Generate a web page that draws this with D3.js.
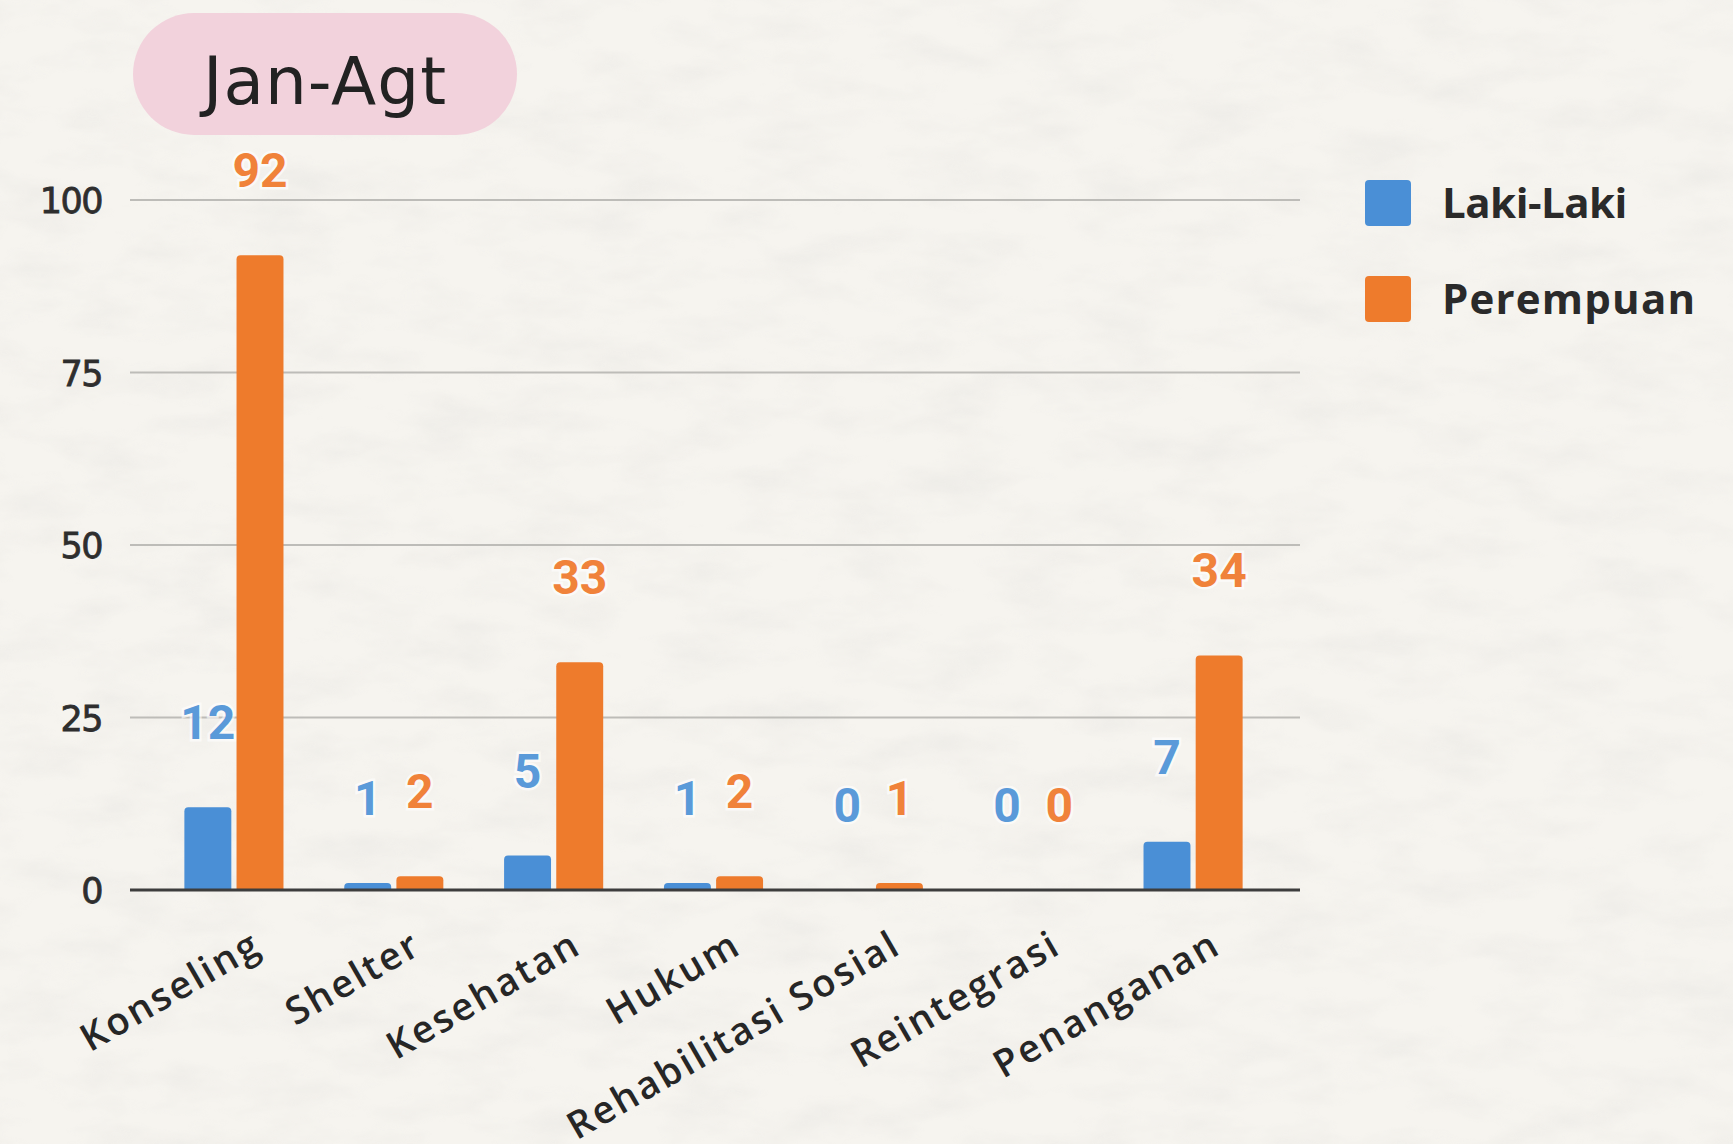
<!DOCTYPE html>
<html><head><meta charset="utf-8">
<script src="https://cdn.jsdelivr.net/npm/d3@7"></script>
<style>
html,body{margin:0;padding:0;background:#f3f1ec;}
svg{display:block;}
</style></head>
<body>
<svg id="chart" width="1733" height="1144"></svg>
<script>
const categories = ["Konseling","Shelter","Kesehatan","Hukum","Rehabilitasi Sosial","Reintegrasi","Penanganan"];
const seriesNames = ["Laki-Laki","Perempuan"];
const lakiLaki = [12,1,5,1,0,0,7];
const perempuan = [92,2,33,2,1,0,34];
const yTicks = [0,25,50,75,100];
const title = "Jan-Agt";

const colors = {"Laki-Laki":"#4a8fd6","Perempuan":"#ee7b2c"};
const labelColors = {"Laki-Laki":"#5a9ad9","Perempuan":"#f0823a"};

const svg = d3.select("#chart");
const W = 1733, H = 1144;

// paper texture background
const defs = svg.append("defs");
const f = defs.append("filter").attr("id","paper").attr("x",0).attr("y",0).attr("width","100%").attr("height","100%");
f.append("feTurbulence").attr("type","fractalNoise").attr("baseFrequency","0.012 0.03").attr("numOctaves",4).attr("seed",3).attr("result","n");
f.append("feColorMatrix").attr("in","n").attr("type","matrix")
 .attr("values","0 0 0 0 0.80  0 0 0 0 0.79  0 0 0 0 0.76  0 0 0 -1.6 0.95");
svg.append("rect").attr("width",W).attr("height",H).attr("fill","#f6f4ef");
svg.append("rect").attr("width",W).attr("height",H).attr("filter","url(#paper)").attr("opacity",0.6);

const baseY = 890, topY = 200;
const y = d3.scaleLinear().domain([0,100]).range([baseY, topY]);
const x0 = d3.scaleBand().domain(categories).range([154,1273]).paddingInner(0.38).paddingOuter(0.19);
const x1 = d3.scaleBand().domain(seriesNames).range([0, x0.bandwidth()]).paddingInner(0.1);

// gridlines
const grid = svg.append("g");
grid.selectAll("line").data(yTicks.filter(d=>d>0)).join("line")
  .attr("x1",130).attr("x2",1300)
  .attr("y1",d=>y(d)).attr("y2",d=>y(d))
  .attr("stroke","#bdbcb8").attr("stroke-width",2);

// y axis labels
const yAxis = d3.axisLeft(y).tickValues(yTicks).tickSize(0).tickPadding(0);
const yg = svg.append("g").attr("transform","translate(102,0)").call(yAxis);
yg.select(".domain").remove();
yg.selectAll("text").attr("font-family","'DejaVu Sans', sans-serif").attr("font-size",35)
  .attr("fill","#2e2e2e").attr("letter-spacing","-1.5px").attr("dy","0.36em")
  .attr("stroke","#2e2e2e").attr("stroke-width",0.8);

const data = categories.map((c,i)=>({cat:c, vals:[{s:"Laki-Laki",v:lakiLaki[i]},{s:"Perempuan",v:perempuan[i]}]}));

function topRounded(xp,yp,w,h,r){
  r = Math.min(r,h,w/2);
  if(h<=0) return "";
  return `M${xp},${yp+h}V${yp+r}Q${xp},${yp} ${xp+r},${yp}H${xp+w-r}Q${xp+w},${yp} ${xp+w},${yp+r}V${yp+h}Z`;
}

const groups = svg.append("g").selectAll("g").data(data).join("g")
  .attr("transform",d=>`translate(${x0(d.cat)},0)`);
groups.selectAll("path").data(d=>d.vals).join("path")
  .attr("d",d=>topRounded(x1(d.s), y(d.v), x1.bandwidth(), baseY - y(d.v), 4))
  .attr("fill",d=>colors[d.s]);

// baseline
svg.append("line").attr("x1",130).attr("x2",1300).attr("y1",baseY).attr("y2",baseY)
  .attr("stroke","#3d3d3d").attr("stroke-width",3);

// value labels
groups.selectAll("text.val").data(d=>d.vals).join("text").attr("class","val")
  .attr("x",d=>x1(d.s)+x1.bandwidth()/2)
  .attr("y",d=>y(d.v)-68)
  .attr("text-anchor","middle")
  .attr("font-family","Roboto, sans-serif").attr("font-weight",700).attr("font-size",48)
  .attr("fill",d=>labelColors[d.s])
  .attr("stroke","#ffffff").attr("stroke-width",5).attr("stroke-opacity",0.6).attr("paint-order","stroke")
  .text(d=>d.v);

// x axis category labels
const xAxis = d3.axisBottom(x0).tickSize(0).tickPadding(0);
const xg = svg.append("g").attr("transform",`translate(0,${baseY})`).call(xAxis);
xg.select(".domain").remove();
xg.selectAll("text")
  .attr("text-anchor","end")
  .attr("font-family","'Open Sans', sans-serif").attr("font-weight",600).attr("font-size",38)
  .attr("letter-spacing","2.5px")
  .attr("fill","#262626")
  .attr("dy",0).attr("y",0)
  .attr("transform","translate(30,62) rotate(-30)");

// legend
const legend = svg.append("g");
const legItems = legend.selectAll("g").data(seriesNames).join("g")
  .attr("transform",(d,i)=>`translate(1365,${180 + i*96})`);
legItems.append("rect").attr("width",46).attr("height",46).attr("rx",4).attr("fill",d=>colors[d]);
legItems.append("text").attr("x",77).attr("y",23).attr("dy","0.36em")
  .attr("font-family","'Open Sans', sans-serif").attr("font-weight",700).attr("font-size",42)
  .attr("fill","#2a2a2a").attr("letter-spacing",(d,i)=>i===1?"1.2px":"-0.5px")
  .text(d=>d);

// title pill
const tg = svg.append("g");
tg.append("rect").attr("x",133).attr("y",13).attr("width",384).attr("height",122).attr("rx",61)
  .attr("fill","#f2d2dc");
tg.append("text").attr("x",325).attr("y",104).attr("text-anchor","middle")
  .attr("font-family","'DejaVu Sans', sans-serif").attr("font-weight",400).attr("font-size",66)
  .attr("fill","#222").attr("letter-spacing","1px")
  .text(title);
</script>
</body></html>
